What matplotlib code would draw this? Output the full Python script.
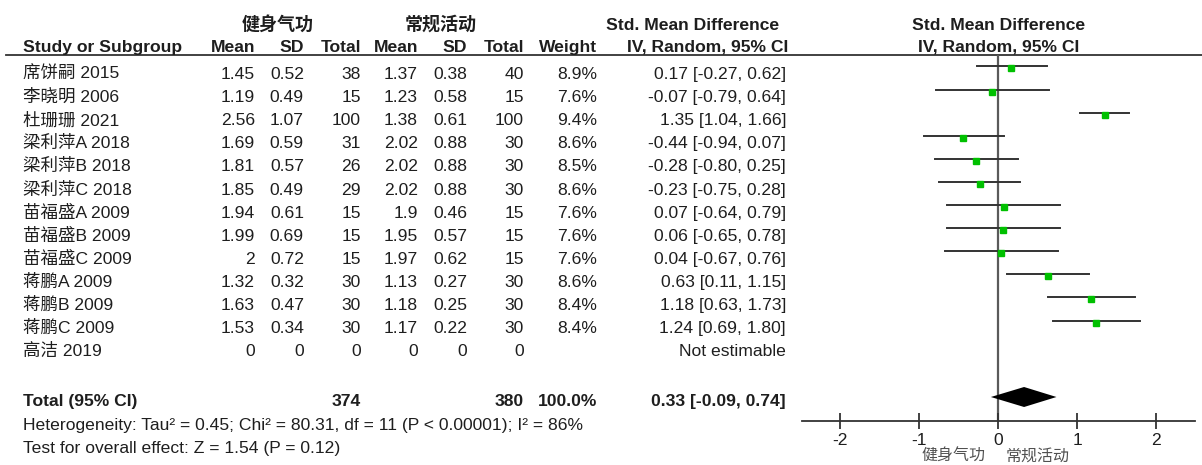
import matplotlib
matplotlib.use("Agg")
import matplotlib.pyplot as plt

studies = ["席饼嗣 2015", "李晓明 2006", "杜珊珊 2021", "梁利萍A 2018", "梁利萍B 2018",
           "梁利萍C 2018", "苗福盛A 2009", "苗福盛B 2009", "苗福盛C 2009", "蒋鹏A 2009",
           "蒋鹏B 2009", "蒋鹏C 2009", "高洁 2019"]
mean1 = [1.45, 1.19, 2.56, 1.69, 1.81, 1.85, 1.94, 1.99, 2, 1.32, 1.63, 1.53, 0]
sd1 = [0.52, 0.49, 1.07, 0.59, 0.57, 0.49, 0.61, 0.69, 0.72, 0.32, 0.47, 0.34, 0]
n1 = [38, 15, 100, 31, 26, 29, 15, 15, 15, 30, 30, 30, 0]
mean2 = [1.37, 1.23, 1.38, 2.02, 2.02, 2.02, 1.9, 1.95, 1.97, 1.13, 1.18, 1.17, 0]
sd2 = [0.38, 0.58, 0.61, 0.88, 0.88, 0.88, 0.46, 0.57, 0.62, 0.27, 0.25, 0.22, 0]
n2 = [40, 15, 100, 30, 30, 30, 15, 15, 15, 30, 30, 30, 0]
weight = [8.9, 7.6, 9.4, 8.6, 8.5, 8.6, 7.6, 7.6, 7.6, 8.6, 8.4, 8.4, None]
smd = [0.17, -0.07, 1.35, -0.44, -0.28, -0.23, 0.07, 0.06, 0.04, 0.63, 1.18, 1.24, None]
lo = [-0.27, -0.79, 1.04, -0.94, -0.80, -0.75, -0.64, -0.65, -0.67, 0.11, 0.63, 0.69, None]
hi = [0.62, 0.64, 1.66, 0.07, 0.25, 0.28, 0.79, 0.78, 0.76, 1.15, 1.73, 1.80, None]

total_n1, total_n2 = 374, 380
total_smd, total_lo, total_hi = 0.33, -0.09, 0.74
het_text = "Heterogeneity: Tau² = 0.45; Chi² = 80.31, df = 11 (P < 0.00001); I² = 86%"
test_text = "Test for overall effect: Z = 1.54 (P = 0.12)"
ticks = [-2, -1, 0, 1, 2]

FONT = ["Liberation Sans", "Noto Sans CJK SC", "DejaVu Sans"]
CJK = ["Noto Sans CJK SC", "DejaVu Sans"]
TC = "#1e1e1e"
FS = 12.6

W, H = 1202, 465
fig = plt.figure(figsize=(W / 100, H / 100), dpi=100)

# text layer in pixel coordinates
tax = fig.add_axes([0, 0, 1, 1])
tax.set_xlim(0, W)
tax.set_ylim(H, 0)
tax.axis("off")


def put(x, y, s, ha="right", bold=False, family=FONT, size=FS, color=TC):
    tax.text(x, y + 6, s, ha=ha, va="baseline", fontsize=size, color=color,
             fontweight="bold" if bold else "normal", family=family)


# column right edges
cols = [255, 304, 361, 418, 467, 524, 597, 786]

# group headers
put(278, 24, "健身气功", ha="center", bold=True, family=CJK, size=13)
put(441, 24, "常规活动", ha="center", bold=True, family=CJK, size=13)
put(693, 24, "Std. Mean Difference", ha="center", bold=True)
put(999, 24, "Std. Mean Difference", ha="center", bold=True)

hy = 46
put(23, hy, "Study or Subgroup", ha="left", bold=True)
for x, s in zip(cols, ["Mean", "SD", "Total", "Mean", "SD", "Total", "Weight",
                       "IV, Random, 95% CI"]):
    put(x + (2 if s.startswith("IV") else 0), hy, s, bold=True)
put(999, hy, "IV, Random, 95% CI", ha="center", bold=True)
tax.plot([6, W], [55, 55], color="#333333", lw=1.3)

row0, step = 73, 23.1
rows_y = [row0 + step * i for i in range(len(studies))]
for i, y in enumerate(rows_y):
    put(23, y, studies[i], ha="left")
    vals = ["{:g}".format(mean1[i]), "{:g}".format(sd1[i]), str(n1[i]),
            "{:g}".format(mean2[i]), "{:g}".format(sd2[i]), str(n2[i])]
    for x, s in zip(cols[:6], vals):
        put(x, y, s)
    if weight[i] is None:
        put(cols[7], y, "Not estimable")
    else:
        put(cols[6], y, "{:.1f}%".format(weight[i]))
        put(cols[7], y, "{:.2f} [{:.2f}, {:.2f}]".format(smd[i], lo[i], hi[i]))

ty = 400
put(23, ty, "Total (95% CI)", ha="left", bold=True)
put(cols[2], ty, str(total_n1), bold=True)
put(cols[5], ty, str(total_n2), bold=True)
put(cols[6], ty, "100.0%", bold=True)
put(cols[7], ty, "{:.2f} [{:.2f}, {:.2f}]".format(total_smd, total_lo, total_hi), bold=True)
put(23, 424, het_text, ha="left")
put(23, 447, test_text, ha="left")

# forest panel
x0_px, unit = 998, 79
left_px, right_px = 802, 1195
top_px, bot_px = 55, 421
ax = fig.add_axes([left_px / W, 1 - bot_px / H, (right_px - left_px) / W,
                   (bot_px - top_px) / H])
ax.set_xlim((left_px - x0_px) / unit, (right_px - x0_px) / unit)
ax.set_ylim(bot_px, top_px)
ax.patch.set_alpha(0)
for s in ["top", "left", "right"]:
    ax.spines[s].set_visible(False)
ax.spines["bottom"].set_color("#333333")
ax.spines["bottom"].set_linewidth(1.3)
ax.set_yticks([])
ax.set_xticks(ticks)
ax.set_xticklabels([str(t) for t in ticks], family=FONT, fontsize=FS, color=TC)
ax.tick_params(axis="x", direction="inout", length=11, width=1.3, color="#333333", pad=3)
ax.axvline(0, color="#5a5a5a", lw=1.6, zorder=1)

for i, y in enumerate(rows_y):
    if smd[i] is None:
        continue
    ax.plot([lo[i], hi[i]], [y - 6.5, y - 6.5], color="#333333", lw=1.4, zorder=2)
    ax.plot(smd[i], y - 4.5, marker="s", ms=4.0 * (weight[i] / 8.6) ** 0.3,
            color="#00c000", mec="#00c000", zorder=3)

dy = ty - 3
ax.fill([total_lo, total_smd, total_hi, total_smd], [dy, dy - 10, dy, dy + 10],
        color="black", lw=0, zorder=3)

# direction labels (kept just inside the bottom edge)
put(985, 455, "健身气功", ha="right", family=CJK, size=11.5, color="#505050")
put(1006, 455, "常规活动", ha="left", family=CJK, size=11.5, color="#505050")

fig.savefig("out.png", dpi=100)
